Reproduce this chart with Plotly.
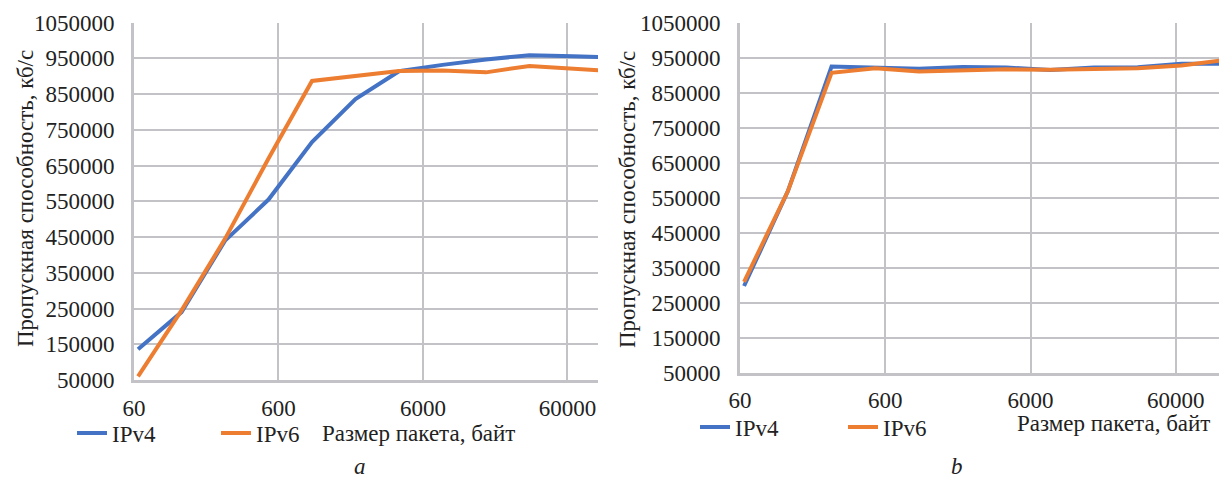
import math
import plotly.graph_objects as go

# ---- data ----
sizes_a = [64, 128, 256, 512, 1024, 2048, 4096, 8192, 16384, 32768, 65536, 100000]
ipv4_a = [136000, 240000, 440000, 555000, 716000, 836000, 914000, 932000, 947000, 959000, 956000, 954000]
ipv6_a = [60000, 245000, 445000, 670000, 887000, 900000, 915000, 916000, 911000, 929000, 920000, 917000]

sizes_b = [64, 128, 256, 512, 1024, 2048, 4096, 8192, 16384, 32768, 65536, 131072]
ipv4_b = [299000, 569000, 925000, 923000, 919000, 924000, 922000, 915000, 922000, 923000, 933000, 933000]
ipv6_b = [311000, 569000, 907000, 920000, 911000, 915000, 917000, 916000, 918000, 920000, 928000, 944000]

series_names = ["IPv4", "IPv6"]
colors = ["#4472C4", "#ED7D31"]

x_ticks = [60, 600, 6000, 60000]
x_ticktext = ["60", "600", "6000", "60000"]
y_min, y_max, y_step = 50000, 1050000, 100000

y_title = "Пропускная способность, кб/с"
x_title = "Размер пакета, байт"
captions = ["a", "b"]

W, H = 1219, 481
FONT = "Liberation Serif, Times New Roman, serif"
FS = 23
GRID = "#c3c3c7"
TXT = "#222222"

fig = go.Figure()

fig.add_trace(go.Scatter(x=sizes_a, y=ipv4_a, mode="lines", name=series_names[0],
                         line=dict(color=colors[0], width=4), xaxis="x", yaxis="y", legend="legend"))
fig.add_trace(go.Scatter(x=sizes_a, y=ipv6_a, mode="lines", name=series_names[1],
                         line=dict(color=colors[1], width=4), xaxis="x", yaxis="y", legend="legend"))
fig.add_trace(go.Scatter(x=sizes_b, y=ipv4_b, mode="lines", name=series_names[0],
                         line=dict(color=colors[0], width=4), xaxis="x2", yaxis="y2", legend="legend2"))
fig.add_trace(go.Scatter(x=sizes_b, y=ipv6_b, mode="lines", name=series_names[1],
                         line=dict(color=colors[1], width=4), xaxis="x2", yaxis="y2", legend="legend2"))


def px_x(p):
    return p / W


def px_y(p):
    return 1 - p / H


common_x = dict(type="log", tickvals=x_ticks, ticktext=x_ticktext, showgrid=True,
                gridcolor=GRID, gridwidth=2, showline=True, linecolor=GRID, linewidth=3,
                zeroline=False, ticks="outside", tickcolor="rgba(0,0,0,0)", automargin=False,
                tickfont=dict(family=FONT, size=FS, color=TXT))
common_y = dict(range=[y_min, y_max], tick0=y_min, dtick=y_step, tickformat="d",
                showgrid=True, gridcolor=GRID, gridwidth=2, showline=True, linecolor=GRID,
                linewidth=3, zeroline=False, ticks="outside", ticklen=12, automargin=False,
                tickcolor="rgba(0,0,0,0)", tickfont=dict(family=FONT, size=FS, color=TXT))

fig.update_layout(
    template="none",
    width=W, height=H, margin=dict(l=0, r=0, t=0, b=0, pad=0),
    paper_bgcolor="white", plot_bgcolor="white",
    xaxis=dict(common_x, domain=[px_x(134), px_x(598)], anchor="y",
               range=[math.log10(60), 4.99], ticklen=5),
    yaxis=dict(common_y, domain=[px_y(380), px_y(22.7)], anchor="x"),
    xaxis2=dict(common_x, domain=[px_x(740), 1.0], anchor="y2",
                range=[math.log10(60), 5.075], ticklen=4),
    yaxis2=dict(common_y, domain=[px_y(373.3), px_y(22.7)], anchor="x2"),
    legend=dict(orientation="h", x=px_x(72), y=px_y(433), xanchor="left", yanchor="middle",
                entrywidth=99, entrywidthmode="pixels", bgcolor="rgba(0,0,0,0)",
                font=dict(family=FONT, size=FS, color=TXT)),
    legend2=dict(orientation="h", x=px_x(695), y=px_y(427), xanchor="left", yanchor="middle",
                 entrywidth=103, entrywidthmode="pixels", bgcolor="rgba(0,0,0,0)",
                 font=dict(family=FONT, size=FS, color=TXT)),
    showlegend=True,
)

ann_font = dict(family=FONT, size=FS, color=TXT)
fig.add_annotation(text=y_title, xref="paper", yref="paper", x=px_x(25), y=px_y(199),
                   textangle=-90, showarrow=False, font=ann_font, xanchor="center", yanchor="middle")
fig.add_annotation(text=y_title, xref="paper", yref="paper", x=px_x(627), y=px_y(199),
                   textangle=-90, showarrow=False, font=ann_font, xanchor="center", yanchor="middle")
fig.add_annotation(text=x_title, xref="paper", yref="paper", x=px_x(320), y=px_y(433),
                   showarrow=False, font=ann_font, xanchor="left", yanchor="middle")
fig.add_annotation(text=x_title, xref="paper", yref="paper", x=px_x(1015), y=px_y(423),
                   showarrow=False, font=ann_font, xanchor="left", yanchor="middle")
fig.add_annotation(text="<i>" + captions[0] + "</i>", xref="paper", yref="paper", x=px_x(360), y=0,
                   showarrow=False, font=ann_font, xanchor="center", yanchor="bottom")
fig.add_annotation(text="<i>" + captions[1] + "</i>", xref="paper", yref="paper", x=px_x(957), y=0,
                   showarrow=False, font=ann_font, xanchor="center", yanchor="bottom")

fig.write_html("out.html", config={"displayModeBar": False},
               post_script="document.body.style.margin='0';document.body.style.overflow='hidden';")
